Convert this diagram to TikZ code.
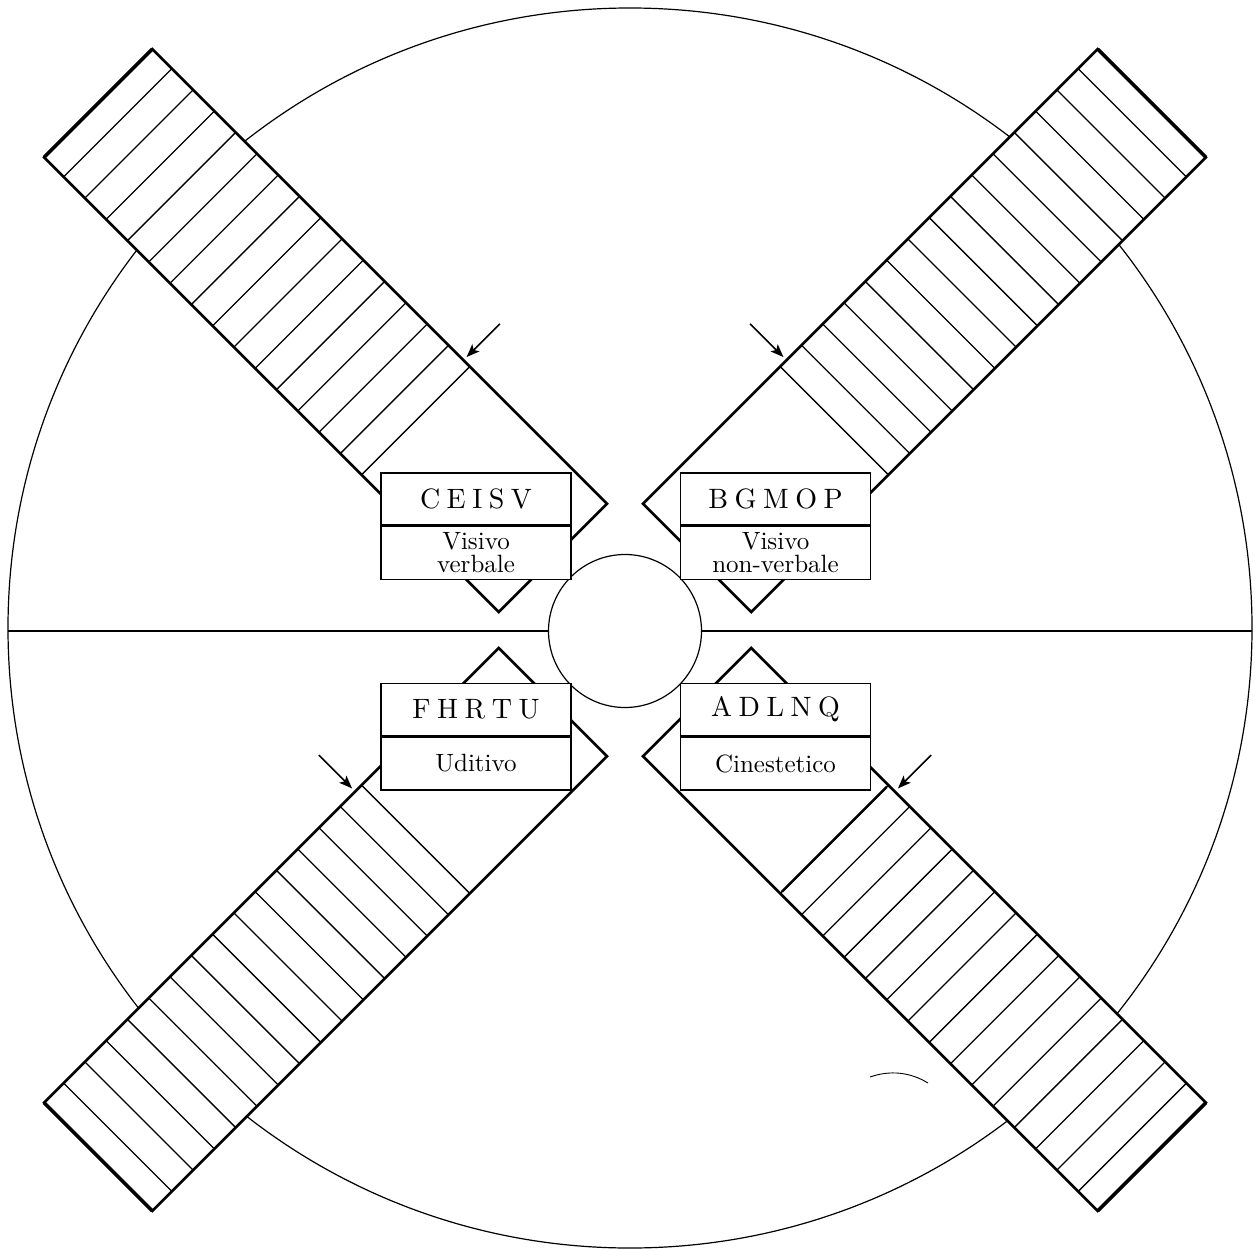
\documentclass[tikz,border=0pt]{standalone}
\usepackage{fontspec}
\setmainfont{lmroman10-regular.otf}
\usetikzlibrary{arrows.meta}
\newcommand\lsp{\kern6.5pt\relax}
\tikzset{
  ring/.style={line width=1.2pt},
  axisline/.style={line width=1.4pt},
  barfill/.style={fill=white},
  stripe/.style={line width=1.3pt},
  baredge/.style={line width=2.6pt, line join=miter},
  barend/.style={line width=3.6pt},
  pointer/.style={line width=1.6pt, -{Stealth[length=13pt,width=10pt,inset=3pt]}},
  codebox/.style={draw, fill=white, line width=1.5pt, minimum width=190pt,
    minimum height=52pt, inner sep=0pt, font=\fontsize{28}{30}\selectfont},
  namebox/.style={draw, fill=white, line width=1.5pt, minimum width=190pt,
    minimum height=53pt, inner sep=0pt, align=center,
    font=\fontsize{25}{23}\selectfont},
  hubstyle/.style={circle, draw, fill=white, line width=1.2pt,
    minimum size=153pt, inner sep=0pt},
}
% #1 rotation, #2 arrow side (+1/-1), #3 name prefix
\newcommand\drawvane[3]{%
  \begin{scope}[shift={(625,-630)}, rotate=#1]
    \path[barfill] (102,-76.5) rectangle (745,76.5);
    \foreach \k in {0,...,14}
      \draw[stripe] ({296+30.1*\k},-76.5) -- ({296+30.1*\k},76.5);
    \draw[baredge] (745,-76.5) -- (102,-76.5) -- (102,76.5) -- (745,76.5) -- cycle;
    \draw[barend] (745,-76.5) -- (745,76.5);
    \coordinate (#3-tail) at (305,{#2*128});
    \coordinate (#3-tip) at (305,{#2*81});
    \draw[pointer] (#3-tail) -- (#3-tip);
  \end{scope}}
\begin{document}
\begin{tikzpicture}[x=1pt,y=1pt]
  \useasboundingbox (0,0) rectangle (1255,-1249);
  % outer circle and horizontal diameter
  \draw[ring] (630,-628) ellipse [x radius=622, y radius=620];
  \coordinate (hl) at (8,-631);
  \coordinate (hr) at (1252,-631);
  \draw[axisline] (hl) -- (hr);
  % hub
  \node[hubstyle] (hub) at (625,-631) {};
  % four vanes
  \drawvane{135}{-1}{tl}
  \drawvane{45}{1}{tr}
  \drawvane{225}{-1}{bl}
  \drawvane{-45}{1}{br}
  \begin{scope}[shift={(625,-630)}, rotate=-45]
    \draw[line width=2.6pt] (296,-74) -- (296,74);
  \end{scope}
  % label boxes
  \node[codebox] (tlcode) at (476,-499) {C\lsp E\lsp I\lsp S\lsp V};
  \node[namebox, anchor=north] (tlname) at (tlcode.south) {Visivo\\verbale};
  \node[codebox] (trcode) at (775.5,-499) {B\lsp G\lsp M\lsp O\lsp P};
  \node[namebox, anchor=north] (trname) at (trcode.south) {Visivo\\non-verbale};
  \node[codebox] (blcode) at (476,-709.5) {F\lsp H\lsp R\lsp T\lsp U};
  \node[namebox, anchor=north] (blname) at (blcode.south) {Uditivo};
  \node[codebox] (brcode) at (775.5,-709.5) {A\lsp D\lsp L\lsp N\lsp Q};
  \node[namebox, anchor=north] (brname) at (brcode.south) {Cinestetico};
  % stray mark
  \draw[line width=0.9pt] (870,-1077) .. controls (890,-1070) and (910,-1072) .. (928,-1083);
\end{tikzpicture}
\end{document}
